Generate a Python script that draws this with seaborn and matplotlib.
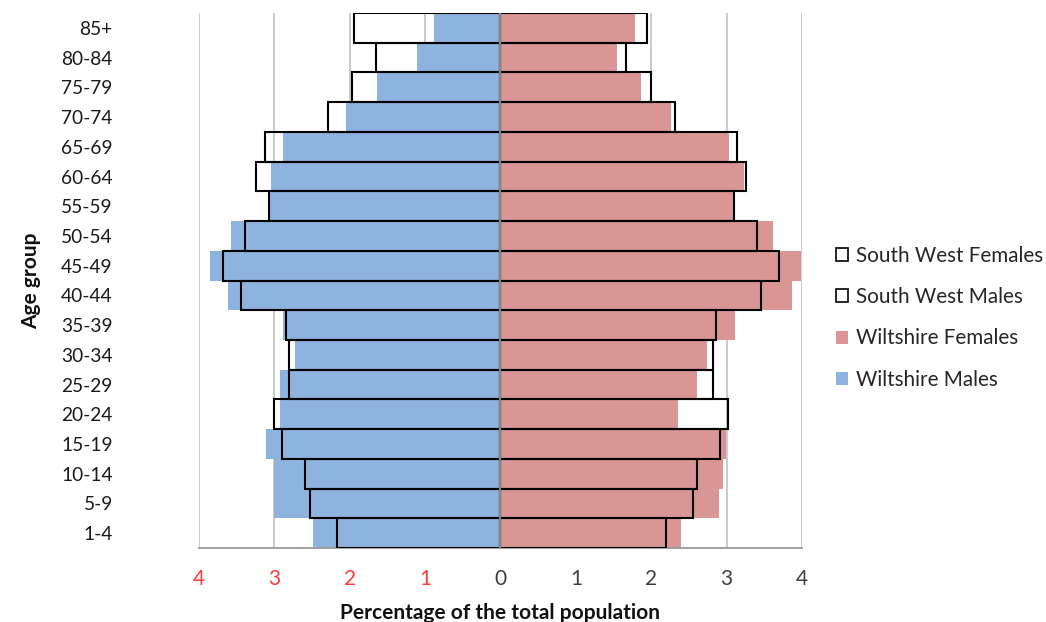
import numpy as np
import pandas as pd
import seaborn as sns
import matplotlib.pyplot as plt
from matplotlib.patches import Patch

# Age bands, oldest at the top
age_groups = ["85+", "80-84", "75-79", "70-74", "65-69", "60-64", "55-59",
              "50-54", "45-49", "40-44", "35-39", "30-34", "25-29", "20-24",
              "15-19", "10-14", "5-9", "1-4"]

# Percentage of the total population in each band
wiltshire_males = [0.88, 1.11, 1.64, 2.05, 2.88, 3.05, 3.06, 3.58, 3.86, 3.62,
                   2.89, 2.72, 2.92, 2.93, 3.11, 3.00, 3.00, 2.49]
wiltshire_females = [1.78, 1.54, 1.87, 2.26, 3.03, 3.23, 3.08, 3.61, 3.99, 3.87,
                     3.11, 2.74, 2.61, 2.36, 2.99, 2.95, 2.90, 2.39]
south_west_males = [1.94, 1.65, 1.97, 2.29, 3.13, 3.24, 3.07, 3.39, 3.68, 3.44,
                    2.85, 2.81, 2.81, 3.01, 2.90, 2.59, 2.53, 2.17]
south_west_females = [1.95, 1.67, 2.00, 2.31, 3.14, 3.26, 3.10, 3.40, 3.70, 3.46,
                      2.86, 2.82, 2.82, 3.02, 2.91, 2.61, 2.55, 2.19]

x_ticks = [-4, -3, -2, -1, 0, 1, 2, 3, 4]

BLUE = "#8EB3DE"
PINK = "#D99694"

sns.set_style("white")
plt.rcParams["font.family"] = ["Lato", "DejaVu Sans"]

df = pd.DataFrame({
    "age": age_groups,
    "wilts_m": -np.array(wiltshire_males),
    "wilts_f": np.array(wiltshire_females),
    "sw_m": -np.array(south_west_males),
    "sw_f": np.array(south_west_females),
})

fig = plt.figure(figsize=(10.46, 6.22), dpi=100)
ax = fig.add_axes([0.1902, 0.119, 0.5765, 0.860])

common = dict(y="age", order=age_groups, width=1.0, errorbar=None,
              saturation=1, ax=ax, orient="h")
sns.barplot(data=df, x="wilts_m", color=BLUE, linewidth=0, **common)
sns.barplot(data=df, x="wilts_f", color=PINK, linewidth=0, **common)
sns.barplot(data=df, x="sw_m", color="black", fill=False, linewidth=1.5, **common)
sns.barplot(data=df, x="sw_f", color="black", fill=False, linewidth=1.5, **common)

# South West outlines sit above the filled Wiltshire bars
for p in ax.patches[2 * len(age_groups):]:
    p.set_zorder(3)

ax.set_xlim(-4, 4)
ax.set_xticks(x_ticks)
ax.set_xticklabels([str(abs(t)) for t in x_ticks], fontsize=15)
for t, lab in zip(x_ticks, ax.get_xticklabels()):
    lab.set_color("#FF3B3B" if t < 0 else "#404040")

ax.set_axisbelow(True)
ax.grid(axis="x", color="#BDBDBD", linewidth=1.1)
ax.grid(axis="y", visible=False)
ax.axvline(0, color="#858585", linewidth=1.6, zorder=5)

for side in ("top", "right", "left"):
    ax.spines[side].set_visible(False)
ax.spines["bottom"].set_color("#9A9A9A")
ax.spines["bottom"].set_linewidth(1.3)

ax.tick_params(axis="x", direction="out", length=5, width=1.1, color="#9A9A9A", pad=10)
ax.tick_params(axis="y", length=0, pad=62, labelsize=13.8, labelcolor="#1A1A1A")

ax.set_xlabel("Percentage of the total population", fontsize=15,
              fontweight="bold", labelpad=10, color="#111111")
ax.set_ylabel("Age group", fontsize=15, fontweight="bold", color="#111111")
ax.yaxis.set_label_coords(-0.262, 0.5)

handles = [
    Patch(facecolor="white", edgecolor="black", linewidth=1.2, label="South West Females"),
    Patch(facecolor="white", edgecolor="black", linewidth=1.2, label="South West Males"),
    Patch(facecolor=PINK, edgecolor="none", label="Wiltshire Females"),
    Patch(facecolor=BLUE, edgecolor="none", label="Wiltshire Males"),
]
fig.legend(handles=handles, loc="center left", bbox_to_anchor=(0.7992, 0.489),
           frameon=False, fontsize=14.9, handlelength=0.6, handleheight=0.6,
           handletextpad=0.35, labelspacing=1.03, borderpad=0, borderaxespad=0)

fig.savefig("out.png", dpi=100)
